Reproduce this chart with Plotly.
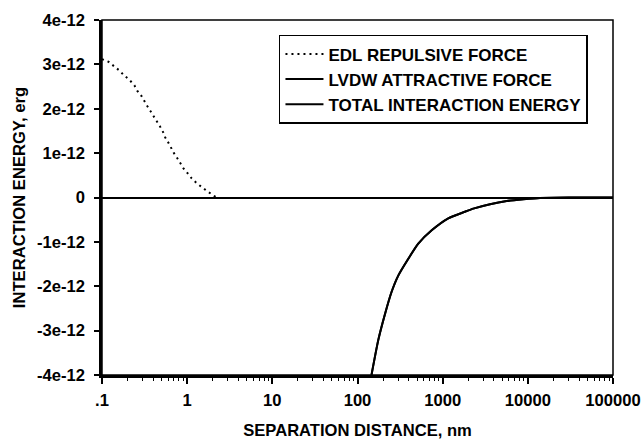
import plotly.graph_objects as go

# EDL repulsive force (erg) vs separation distance (nm)
edl_x = [0.1, 0.119, 0.138, 0.158, 0.18, 0.21, 0.24, 0.26, 0.29, 0.31, 0.34, 0.37, 0.41,
         0.44, 0.48, 0.52, 0.55, 0.60, 0.64, 0.70, 0.77, 0.84, 0.91, 1.01, 1.13, 1.30,
         1.50, 1.75, 2.0, 2.2]
edl_y = [3.12e-12, 3.06e-12, 2.96e-12, 2.87e-12, 2.76e-12, 2.65e-12, 2.53e-12, 2.40e-12,
         2.29e-12, 2.18e-12, 2.06e-12, 1.95e-12, 1.82e-12, 1.71e-12, 1.60e-12, 1.48e-12,
         1.36e-12, 1.24e-12, 1.13e-12, 1.00e-12, 0.88e-12, 0.77e-12, 0.65e-12, 0.55e-12,
         0.43e-12, 0.32e-12, 0.22e-12, 0.13e-12, 0.056e-12, 0.0]

# LVDW attractive force (erg)
lvdw_x = [146, 175, 210, 251, 301, 395, 517, 743, 1164, 1828, 2290, 3600, 5650, 8850,
          13900, 30000, 100000]
lvdw_y = [-4.0e-12, -3.22e-12, -2.63e-12, -2.13e-12, -1.76e-12, -1.38e-12, -1.04e-12,
          -0.74e-12, -0.47e-12, -0.32e-12, -0.25e-12, -0.15e-12, -0.08e-12, -0.04e-12,
          -0.01e-12, 0.0, 0.0]

# Total interaction energy (erg) - coincides with LVDW in the visible range
total_x = [146, 175, 210, 251, 301, 395, 517, 743, 1164, 1828, 2290, 3600, 5650, 8850,
           13900, 30000, 100000]
total_y = [-4.0e-12, -3.22e-12, -2.63e-12, -2.13e-12, -1.76e-12, -1.38e-12, -1.04e-12,
           -0.74e-12, -0.47e-12, -0.32e-12, -0.25e-12, -0.15e-12, -0.08e-12, -0.04e-12,
           -0.01e-12, 0.0, 0.0]

x_tickvals = [0.1, 1, 10, 100, 1000, 10000, 100000]
x_ticktext = [".1", "1", "10", "100", "1000", "10000", "100000"]
y_tickvals = [4e-12, 3e-12, 2e-12, 1e-12, 0, -1e-12, -2e-12, -3e-12, -4e-12]
y_ticktext = ["4e-12", "3e-12", "2e-12", "1e-12", "0", "-1e-12", "-2e-12", "-3e-12", "-4e-12"]

minor_vals = [m * 10 ** e for e in range(-1, 5) for m in range(2, 10)]

FONT = "Liberation Sans, Arial, sans-serif"
FS = 16.6

fig = go.Figure()
fig.add_trace(go.Scatter(x=edl_x, y=edl_y, mode="lines", name="EDL REPULSIVE FORCE",
                         line=dict(color="black", width=2, dash="2px,4px")))
fig.add_trace(go.Scatter(x=lvdw_x, y=lvdw_y, mode="lines", name="LVDW ATTRACTIVE FORCE",
                         line=dict(color="black", width=2, shape="spline", smoothing=0.6)))
fig.add_trace(go.Scatter(x=total_x, y=total_y, mode="lines", name="TOTAL INTERACTION ENERGY",
                         line=dict(color="black", width=2, shape="spline", smoothing=0.6)))

fig.update_layout(
    width=641, height=442,
    margin=dict(l=102, r=28, t=20, b=67, autoexpand=False),
    paper_bgcolor="white", plot_bgcolor="white",
    font=dict(family=FONT, size=FS, color="black", weight="bold"),
    showlegend=True,
    legend=dict(x=0.951, xanchor="right", y=0.958, yanchor="top",
                bgcolor="white", bordercolor="black", borderwidth=1.5,
                font=dict(family=FONT, size=17, color="black", weight="bold"),
                itemwidth=38, tracegroupgap=0),
    xaxis=dict(type="log", range=[-1, 5], tickmode="array", tickvals=x_tickvals,
               ticktext=x_ticktext, ticks="outside", ticklen=6, tickwidth=1.5,
               tickcolor="black", showline=True, linecolor="black", linewidth=2.5,
               showgrid=False, zeroline=False, automargin=False, ticklabelstandoff=2,
               minor=dict(tickmode="array", tickvals=minor_vals, ticks="outside",
                          ticklen=3, tickwidth=1.2, tickcolor="black", showgrid=False),
               title=dict(text="SEPARATION DISTANCE, nm", standoff=16,
                          font=dict(family=FONT, size=FS, weight="bold"))),
    yaxis=dict(range=[-4e-12, 4e-12], tickmode="array", tickvals=y_tickvals,
               ticktext=y_ticktext, ticks="outside", ticklen=5, tickwidth=1.5,
               tickcolor="black", showline=True, linecolor="black", linewidth=2.5,
               showgrid=False, zeroline=True, zerolinecolor="black", zerolinewidth=2,
               automargin=False, ticklabelstandoff=6,
               title=dict(text="INTERACTION ENERGY, erg", standoff=8,
                          font=dict(family=FONT, size=FS, weight="bold"))),
    shapes=[dict(type="rect", xref="paper", yref="paper", x0=0, y0=0, x1=1, y1=1,
                 line=dict(color="black", width=1.5), layer="above")],
)

fig.write_html("out.html", config={"displayModeBar": False},
               post_script="document.body.style.margin='0';document.body.style.overflow='hidden';")
